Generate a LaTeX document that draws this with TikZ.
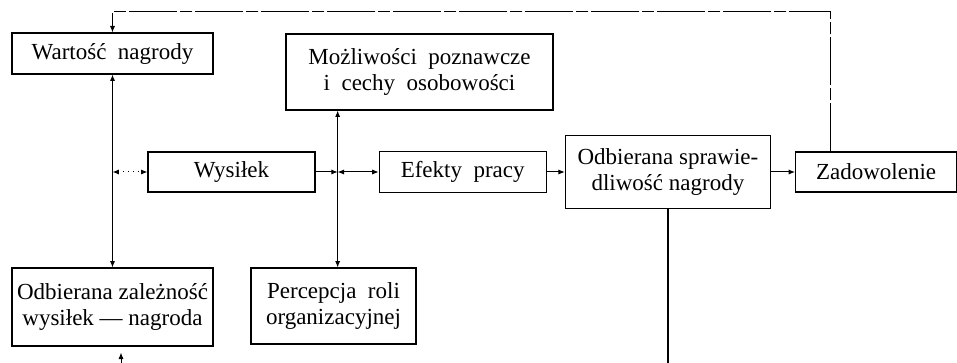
\documentclass[tikz,border=0pt]{standalone}
\usepackage{fontspec}
\setmainfont{Liberation Serif}
\usepackage{tikz}
\usetikzlibrary{arrows.meta,positioning,calc}

\begin{document}
\begin{tikzpicture}[x=0.5pt,y=-0.5pt,>={Latex[length=3.2pt,width=2.6pt]}]
\tikzset{
 box/.style={draw,line width=0.6pt,inner sep=0pt,align=center,font=\fontsize{11.5}{13}\selectfont},
 arrow/.style={->,line width=0.5pt},
 twoway/.style={<->,line width=0.5pt}
}
\useasboundingbox (0,0) rectangle (957,363);
% lewa kolumna
\node[box,minimum width=100.5pt,minimum height=20.5pt] (wartosc) at (112.5,53.5) {Wartość\ \ nagrody};
\node[box,minimum width=100.5pt,minimum height=39pt] (zaleznosc) at (112.5,307) {Odbierana zależność\\wysiłek --- nagroda};
% srodek
\node[box,minimum width=83.5pt,minimum height=20pt] (wysilek) at (231.5,172) {Wysiłek};
\node[box,minimum width=133.5pt,minimum height=38pt] (mozliwosci) at (419.5,72) {Możliwości\ \ poznawcze\\i\ \ cechy\ \ osobowości};
\node[box,minimum width=82.5pt,minimum height=38pt] (percepcja) at (333.5,306) {Percepcja\ \ roli\\organizacyjnej};
\node[box,minimum width=83.5pt,minimum height=20.5pt,right=31.5pt of wysilek] (efekty) {Efekty\ \ pracy};
\node[box,minimum width=102.5pt,minimum height=36.5pt,right=9pt of efekty] (sprawiedl) {Odbierana sprawie-\\dliwość nagrody};
\node[box,minimum width=80.5pt,minimum height=20pt,right=12pt of sprawiedl] (zadowolenie) {Zadowolenie};
% punkty pomocnicze
\coordinate (wezel) at ($(wysilek.east)!0.35!(efekty.west)$);
\coordinate (gora) at (830,12);
\coordinate (dol) at (0,363);
\coordinate (zwrot) at (121,363);
% polaczenia
\draw[twoway] (wartosc.south) -- (zaleznosc.north);
\draw[twoway,dotted] (wartosc.south |- wysilek.west) -- (wysilek.west);
\draw[arrow] (wysilek) -- (wezel);
\draw[twoway] (wezel) -- (efekty);
\draw[twoway] (wezel |- mozliwosci.south) -- (wezel |- percepcja.north);
\draw[arrow] (efekty) -- (sprawiedl);
\draw[arrow] (sprawiedl) -- (zadowolenie);
\draw[line width=0.6pt] (sprawiedl.south) -- (sprawiedl.south |- dol);
\draw[arrow,dash pattern=on 24pt off 1.5pt on 6pt off 1.5pt] (gora |- zadowolenie.north) -- (gora) -| (wartosc.north);
\draw[arrow,shorten >=3pt] (zwrot) -- (zwrot |- zaleznosc.south);
\end{tikzpicture}
\end{document}
